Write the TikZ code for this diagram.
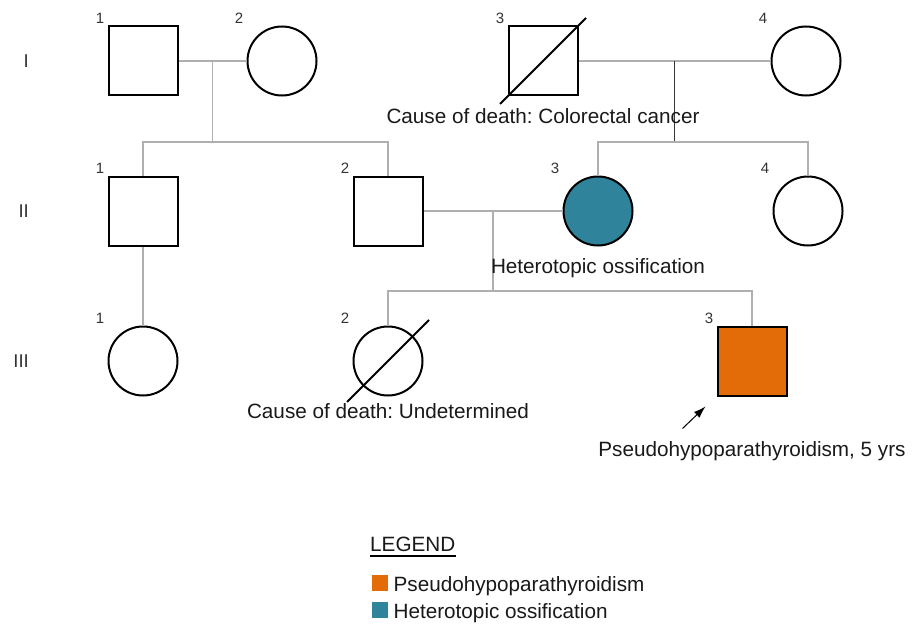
\documentclass[tikz,border=0pt]{standalone}
\usepackage{fontspec}
\setmainfont{Liberation Sans}
\frenchspacing
\definecolor{pphorange}{RGB}{227, 108, 9}
\definecolor{hoteal}{RGB}{47, 132, 155}
\definecolor{linkgray}{RGB}{175, 175, 175}
\definecolor{linkdark}{RGB}{55, 55, 55}
\usetikzlibrary{arrows.meta, positioning, calc}

\tikzset{
  male/.style={draw, line width=2pt, minimum size=69pt, inner sep=0pt},
  female/.style={draw, circle, line width=2pt, minimum size=69pt, inner sep=0pt},
  link/.style={draw=linkgray, line width=1.6pt},
  deceased/.style={line width=2pt},
  num/.style={font=\fontsize{15}{18}\selectfont, text=black!80},
  gen/.style={font=\fontsize{18.5}{22}\selectfont, text=black!80, anchor=east, inner sep=0pt},
  note/.style={font=\fontsize{20.7}{24}\selectfont, text=black!90, anchor=base},
  legkey/.style={minimum size=16pt, inner sep=0pt, anchor=south west},
}

\begin{document}
\begin{tikzpicture}[x=1pt, y=-1pt]
  \useasboundingbox (0,0) rectangle (917,623);

  % Generation I
  \node[male] (I1) at (143,61) {};
  \node[female] (I2) at (282,61) {};
  \node[male] (I3) at (543,61) {};
  \node[female] (I4) at (806,61) {};

  % Generation II
  \node[male] (II1) at (143,211) {};
  \node[male] (II2) at (388,211) {};
  \node[female, fill=hoteal] (II3) at (598,211) {};
  \node[female] (II4) at (808,211) {};

  % Generation III
  \node[female] (III1) at (143,361) {};
  \node[female] (III2) at (388,361) {};
  \node[male, fill=pphorange] (III3) at (752,361) {};

  % Generation labels
  \node[gen] (gI) at (29,61) {I};
  \node[gen] (gII) at (29,211) {II};
  \node[gen] (gIII) at (29,361) {III};

  % Individual numbers
  \foreach \p/\n in {I1/1, I2/2, I3/3, I4/4, II1/1, II2/2, II3/3, II4/4, III1/1, III2/2, III3/3}
    \node[num] (\p n) at ($(\p.center)+(-43,-43)$) {\n};

  % Matings and sibships
  \coordinate (m1) at ($(I1.east)!0.5!(I2.west)$);
  \coordinate (m2) at ($(I3.east)!0.5!(I4.west)$);
  \coordinate (m3) at ($(II2.east)!0.5!(II3.west)$);
  \coordinate (s1) at ($(m1)+(0,81)$);
  \coordinate (s2) at ($(m2)+(0,81)$);
  \coordinate (s3) at ($(m3)+(0,80)$);

  \draw[link] (I1) -- (I2);
  \draw[link] (m1) -- (s1);
  \draw[link] (II1.north) |- (s1) -| (II2.north);

  \draw[link] (I3) -- (I4);
  \draw[link, draw=linkdark] (m2) -- (s2);
  \draw[link] (II3.north) |- (s2) -| (II4.north);

  \draw[link] (II2) -- (II3);
  \draw[link] (m3) -- (s3);
  \draw[link] (III2.north) |- (s3) -| (III3.north);

  \draw[link] (II1) -- (III1);

  % Deceased
  \draw[deceased] ($(I3.center)+(-43,43)$) -- ($(I3.center)+(43,-43)$);
  \draw[deceased] ($(III2.center)+(-41,41)$) -- ($(III2.center)+(41,-41)$);

  % Notes
  \node[note] (cod1) at ($(I3.south)+(0,27)$) {Cause of death: Colorectal cancer};
  \node[note] (ho) at ($(II3.south)+(0,27)$) {Heterotopic ossification};
  \node[note] (cod2) at ($(III2.south)+(0,22)$) {Cause of death: Undetermined};
  \node[note] (pph) at ($(III3.south)+(0,60)$) {Pseudohypoparathyroidism, 5 yrs};

  % Proband arrow
  \coordinate (pa) at ($(III3.south west)+(-34,32)$);
  \coordinate (pb) at ($(III3.south west)+(-11,10)$);
  \draw[-{Latex[length=12pt, width=8pt]}, line width=1pt] (pa) -- (pb);

  % Legend
  \node[note, anchor=base west, inner sep=0pt] (leg) at (370,551) {LEGEND};
  \draw[line width=1.5pt] ($(leg.base west)+(0,5)$) -- ($(leg.base east)+(0,5)$);
  \node[legkey, fill=pphorange] (k1) at (372,591) {};
  \node[note, anchor=base west, inner sep=0pt] (k1t) at ($(k1.south east)+(5,0)$) {Pseudohypoparathyroidism};
  \node[legkey, fill=hoteal] (k2) at (372,618) {};
  \node[note, anchor=base west, inner sep=0pt] (k2t) at ($(k2.south east)+(5,0)$) {Heterotopic ossification};
\end{tikzpicture}
\end{document}
